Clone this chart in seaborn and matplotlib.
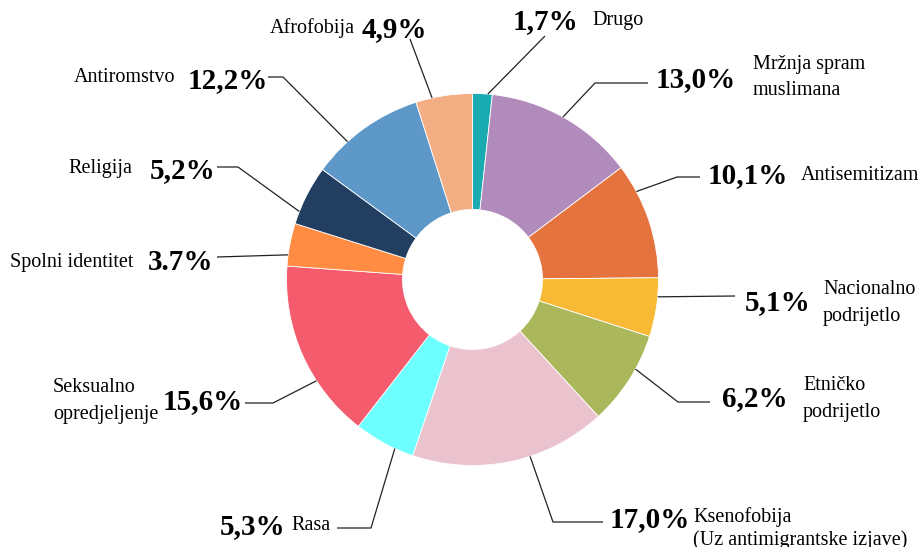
import matplotlib
matplotlib.use("Agg")
import matplotlib.pyplot as plt
import numpy as np
import seaborn as sns

# ---------------- data ----------------
categories = ["Drugo", "Mržnja spram\nmuslimana", "Antisemitizam", "Nacionalno\npodrijetlo",
              "Etničko\npodrijetlo", "Ksenofobija\n(Uz antimigrantske izjave)", "Rasa",
              "Seksualno\nopredjeljenje", "Spolni identitet", "Religija", "Antiromstvo",
              "Afrofobija"]
# slice sizes as drawn in the reference (wedge angles)
slice_values = [1.7, 13.0, 10.1, 5.1, 8.2, 17.0, 5.3, 15.6, 3.7, 5.2, 10.0, 4.9]
# percentage labels as printed in the reference
pct_labels = ["1,7%", "13,0%", "10,1%", "5,1%", "6,2%", "17,0%", "5,3%", "15,6%",
              "3.7%", "5,2%", "12,2%", "4,9%"]
slice_colors = ["#1AABB0", "#B08BBB", "#E5733E", "#F8BA35", "#ABB75B", "#EBC3CF",
                "#6EFFFF", "#F45C6E", "#FF8C42", "#223E60", "#5E98C9", "#F3AE84"]

# ---------------- layout (pixel coordinates, y measured from top) ----------------
W, H = 923, 547
CX, CY, R_OUT, R_IN = 472.5, 279.5, 186, 70
# per label: fraction along wedge (clockwise) where the leader starts,
# leader path after the start point, pct text (x, y, ha), name text (x, y, ha), line gap
layout = [
    (0.77, [(545, 36)],               (513, 22, "left"),  (592, 20, "left"), 26.7),
    (0.49, [(595, 83), (648, 83)],    (656, 80, "left"),  (753, 64, "left"), 26.7),
    (0.24, [(677, 177), (700, 177)],  (708, 176, "left"), (801, 175, "left"), 26.7),
    (0.32, [(735, 296)],              (745, 303, "left"), (823, 290, "left"), 26.7),
    (0.37, [(678, 402), (710, 402)],  (722, 399, "left"), (803, 386, "left"), 26.7),
    (0.40, [(553, 522), (603, 522)],  (610, 520, "left"), (693, 517, "left"), 23.0),
    (0.31, [(371, 528), (337, 528)],  (285, 527, "right"), (291, 526, "left"), 26.7),
    (0.34, [(273, 403), (245, 403)],  (163, 402, "left"), (53, 388, "left"), 27.0),
    (0.26, [(217, 257)],              (148, 263, "left"), (10, 263, "left"), 26.7),
    (0.21, [(238, 167), (217, 167)],  (150, 171, "left"), (68, 168, "left"), 26.7),
    (0.32, [(283, 77), (268, 77)],    (188, 81, "left"),  (74, 77, "left"), 26.7),
    (0.29, [(410, 39)],               (362, 30, "left"),  (270, 28, "left"), 26.7),
]


def P(x, y):
    return x, H - y


sns.set_theme(style="white")
plt.rcParams["font.family"] = ["Liberation Serif", "DejaVu Serif"]

fig = plt.figure(figsize=(W / 100, H / 100), dpi=100)
ax = fig.add_axes([0, 0, 1, 1])

palette = sns.color_palette(slice_colors)
cx, cy = P(CX, CY)
wedges, _ = ax.pie(slice_values, colors=palette, startangle=90, counterclock=False,
                   center=(cx, cy), radius=R_OUT,
                   wedgeprops=dict(width=R_OUT - R_IN, edgecolor="white", linewidth=0.6))

for w, name, pct, (frac, path, ppos, npos, gap) in zip(wedges, categories, pct_labels, layout):
    a = np.deg2rad(w.theta2 - frac * (w.theta2 - w.theta1))
    sx, sy = cx + R_OUT * np.cos(a), cy + R_OUT * np.sin(a)
    pts = [(sx, sy)] + [P(x, y) for x, y in path]
    ax.plot([p[0] for p in pts], [p[1] for p in pts], color="#222222", lw=0.9,
            solid_capstyle="butt", zorder=3)
    px, py = P(ppos[0], ppos[1])
    ax.text(px, py, pct, ha=ppos[2], va="center", fontsize=21, fontweight="bold",
            color="black")
    for i, line in enumerate(name.split("\n")):
        nx, ny = P(npos[0], npos[1] + i * gap)
        ax.text(nx, ny, line, ha=npos[2], va="center", fontsize=14.5, color="black")

ax.set_xlim(0, W)
ax.set_ylim(0, H)
ax.set_aspect("equal")
ax.axis("off")

fig.savefig("out.png", dpi=100, facecolor="white")
